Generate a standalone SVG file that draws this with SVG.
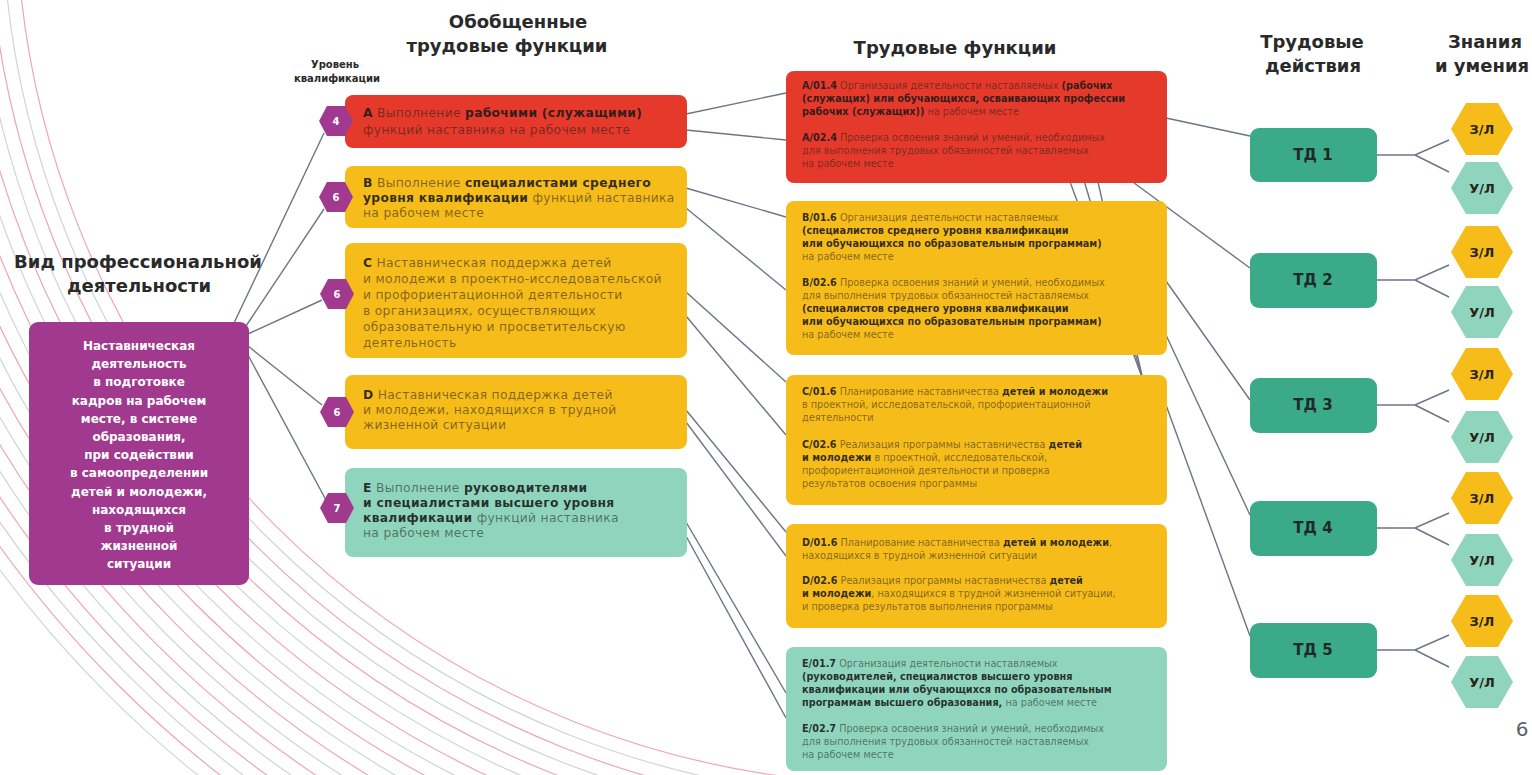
<svg xmlns="http://www.w3.org/2000/svg" width="1532" height="775" viewBox="0 0 1532 775">
<defs>
<clipPath id="clipArcs"><rect x="0" y="0" width="820" height="775"/></clipPath>
<style>
.h{font-family:"DejaVu Sans","Liberation Sans",sans-serif;font-weight:bold;font-size:18px;fill:#2a2a2a;text-anchor:middle}
.sm{font-family:"DejaVu Sans","Liberation Sans",sans-serif;font-weight:bold;font-size:10px;fill:#2a2a2a;text-anchor:middle}
.g{font-family:"DejaVu Sans","Liberation Sans",sans-serif;font-size:12.3px;letter-spacing:0.3px;fill:#1a1a1a;fill-opacity:.55}
.t{font-family:"DejaVu Sans","Liberation Sans",sans-serif;font-size:9.7px;fill:#1a1a1a;fill-opacity:.55}
.b{font-weight:bold;fill-opacity:.9}
.pv{font-family:"DejaVu Sans","Liberation Sans",sans-serif;font-weight:bold;font-size:12px;fill:#ffffff;text-anchor:middle}
.lv{font-family:"DejaVu Sans","Liberation Sans",sans-serif;font-weight:bold;font-size:10px;fill:#ffffff;text-anchor:middle}
.td{font-family:"DejaVu Sans","Liberation Sans",sans-serif;font-weight:bold;font-size:15px;fill:#1f2a28;text-anchor:middle}
.zl{font-family:"DejaVu Sans","Liberation Sans",sans-serif;font-weight:bold;font-size:13px;fill:#2a2418;text-anchor:middle}
.red{fill:#e53a2b}
.yel{fill:#f6bc1a}
.mint{fill:#8fd5bd}
.teal{fill:#3aaa88}
.pur{fill:#a1398f}
.c{stroke:#6c7486;stroke-width:1.4;fill:none}
.arcP{fill:none;stroke:#eda6b8;stroke-width:1.2}
.arcG{fill:none;stroke:#cfd3dd;stroke-width:1.2}
</style>
</defs>
<rect x="0" y="0" width="1532" height="775" fill="#ffffff"/>

<g id="background-arcs" clip-path="url(#clipArcs)">
<circle class="arcP" cx="900" cy="-100" r="884"/>
<circle class="arcG" cx="900" cy="-100" r="898"/>
<circle class="arcP" cx="900" cy="-100" r="912"/>
<circle class="arcG" cx="900" cy="-100" r="926"/>
<circle class="arcP" cx="900" cy="-100" r="940"/>
<circle class="arcG" cx="900" cy="-100" r="954"/>
<circle class="arcP" cx="900" cy="-100" r="968"/>
<circle class="arcG" cx="900" cy="-100" r="982"/>
<circle class="arcP" cx="900" cy="-100" r="996"/>
<circle class="arcG" cx="900" cy="-100" r="1010"/>
<circle class="arcP" cx="900" cy="-100" r="1024"/>
<circle class="arcG" cx="900" cy="-100" r="1038"/>
<circle class="arcP" cx="900" cy="-100" r="1052"/>
<circle class="arcG" cx="900" cy="-100" r="1066"/>
<circle class="arcP" cx="900" cy="-100" r="1080"/>
<circle class="arcG" cx="900" cy="-100" r="1094"/>
<circle class="arcP" cx="900" cy="-100" r="1108"/>
<circle class="arcG" cx="900" cy="-100" r="1122"/>
</g>

<g id="headings">
<text class="h" x="518" y="28">Обобщенные</text>
<text class="h" x="507" y="52">трудовые функции</text>
<text class="h" x="955" y="54">Трудовые функции</text>
<text class="h" x="1312" y="48">Трудовые</text>
<text class="h" x="1313" y="72">действия</text>
<text class="h" x="1485" y="48">Знания</text>
<text class="h" x="1482" y="72">и умения</text>
<text class="sm" x="335" y="68">Уровень</text>
<text class="sm" x="337" y="82">квалификации</text>
<text class="h" x="138" y="268">Вид профессиональной</text>
<text class="h" x="139" y="292">деятельности</text>
<text x="1522" y="736" style="font-family:'DejaVu Sans','Liberation Sans',sans-serif;font-size:20px;fill:#5a6272;text-anchor:middle">6</text>
</g>

<g id="connectors">
<line class="c" x1="234" y1="323" x2="324" y2="133"/>
<line class="c" x1="246" y1="326" x2="324" y2="209"/>
<line class="c" x1="248" y1="334" x2="322" y2="300"/>
<line class="c" x1="248" y1="346" x2="322" y2="405"/>
<line class="c" x1="248" y1="355" x2="326" y2="500"/>
<line class="c" x1="686" y1="114" x2="786" y2="93"/>
<line class="c" x1="686" y1="130" x2="786" y2="140"/>
<line class="c" x1="686" y1="188" x2="786" y2="217"/>
<line class="c" x1="686" y1="208" x2="786" y2="290"/>
<line class="c" x1="686" y1="292" x2="786" y2="382"/>
<line class="c" x1="686" y1="316" x2="786" y2="435"/>
<line class="c" x1="686" y1="410" x2="786" y2="532"/>
<line class="c" x1="686" y1="422" x2="786" y2="556"/>
<line class="c" x1="686" y1="522" x2="786" y2="693"/>
<line class="c" x1="686" y1="536" x2="786" y2="718"/>
<line class="c" x1="1062" y1="160" x2="1143" y2="380"/>
<line class="c" x1="1078" y1="160" x2="1143" y2="380"/>
<line class="c" x1="1093" y1="160" x2="1143" y2="380"/>
<line class="c" x1="1166" y1="118" x2="1250" y2="136"/>
<line class="c" x1="1130" y1="180" x2="1250" y2="268"/>
<line class="c" x1="1166" y1="281" x2="1250" y2="400"/>
<line class="c" x1="1166" y1="335" x2="1250" y2="515"/>
<line class="c" x1="1166" y1="405" x2="1250" y2="636"/>
<polyline class="c" points="1377,155 1415,155 1449,140"/><line class="c" x1="1415" y1="155" x2="1449" y2="172"/>
<polyline class="c" points="1377,280 1415,280 1449,265"/><line class="c" x1="1415" y1="280" x2="1449" y2="297"/>
<polyline class="c" points="1377,405 1415,405 1449,390"/><line class="c" x1="1415" y1="405" x2="1449" y2="422"/>
<polyline class="c" points="1377,528 1415,528 1449,513"/><line class="c" x1="1415" y1="528" x2="1449" y2="545"/>
<polyline class="c" points="1377,650 1415,650 1449,635"/><line class="c" x1="1415" y1="650" x2="1449" y2="667"/>
</g>

<g id="activity-type">
<rect class="pur" x="29" y="322" width="220" height="263" rx="9"/>
<text class="pv" x="139" y="350">Наставническая</text>
<text class="pv" x="139" y="368">деятельность</text>
<text class="pv" x="139" y="386">в подготовке</text>
<text class="pv" x="139" y="405">кадров на рабочем</text>
<text class="pv" x="139" y="423">месте, в системе</text>
<text class="pv" x="139" y="441">образования,</text>
<text class="pv" x="139" y="459">при содействии</text>
<text class="pv" x="139" y="477">в самоопределении</text>
<text class="pv" x="139" y="496">детей и молодежи,</text>
<text class="pv" x="139" y="514">находящихся</text>
<text class="pv" x="139" y="532">в трудной</text>
<text class="pv" x="139" y="550">жизненной</text>
<text class="pv" x="139" y="568">ситуации</text>
</g>

<g id="gtf-A">
<rect class="red" x="345" y="95" width="342" height="53" rx="8"/>
<polygon class="pur" points="319,121 327,106 345,106 353,121 345,136 327,136"/>
<text class="lv" x="336" y="125">4</text>
<text class="g" x="363" y="117"><tspan class="b">A</tspan> Выполнение <tspan class="b">рабочими (служащими)</tspan></text>
<text class="g" x="363" y="134">функций наставника на рабочем месте</text>
</g>

<g id="gtf-B">
<rect class="yel" x="345" y="166" width="342" height="62" rx="8"/>
<polygon class="pur" points="319,197 327,182 345,182 353,197 345,212 327,212"/>
<text class="lv" x="336" y="201">6</text>
<text class="g" x="363" y="187"><tspan class="b">B</tspan> Выполнение <tspan class="b">специалистами среднего</tspan></text>
<text class="g" x="363" y="202"><tspan class="b">уровня квалификации</tspan> функций наставника</text>
<text class="g" x="363" y="217">на рабочем месте</text>
</g>

<g id="gtf-C">
<rect class="yel" x="345" y="243" width="342" height="115" rx="8"/>
<polygon class="pur" points="320,294 328,279 346,279 354,294 346,309 328,309"/>
<text class="lv" x="337" y="298">6</text>
<text class="g" x="363" y="267"><tspan class="b">C</tspan> Наставническая поддержка детей</text>
<text class="g" x="363" y="283">и молодежи в проектно-исследовательской</text>
<text class="g" x="363" y="299">и профориентационной деятельности</text>
<text class="g" x="363" y="315">в организациях, осуществляющих</text>
<text class="g" x="363" y="331">образовательную и просветительскую</text>
<text class="g" x="363" y="347">деятельность</text>
</g>

<g id="gtf-D">
<rect class="yel" x="345" y="375" width="342" height="74" rx="8"/>
<polygon class="pur" points="320,412 328,397 346,397 354,412 346,427 328,427"/>
<text class="lv" x="337" y="416">6</text>
<text class="g" x="363" y="399"><tspan class="b">D</tspan> Наставническая поддержка детей</text>
<text class="g" x="363" y="414">и молодежи, находящихся в трудной</text>
<text class="g" x="363" y="429">жизненной ситуации</text>
</g>

<g id="gtf-E">
<rect class="mint" x="345" y="468" width="342" height="89" rx="8"/>
<polygon class="pur" points="320,508 328,493 346,493 354,508 346,523 328,523"/>
<text class="lv" x="337" y="512">7</text>
<text class="g" x="363" y="492"><tspan class="b">E</tspan> Выполнение <tspan class="b">руководителями</tspan></text>
<text class="g" x="363" y="507"><tspan class="b">и специалистами высшего уровня</tspan></text>
<text class="g" x="363" y="522"><tspan class="b">квалификации</tspan> функций наставника</text>
<text class="g" x="363" y="537">на рабочем месте</text>
</g>

<g id="tf-A">
<rect class="red" x="786" y="71" width="381" height="112" rx="8"/>
<text class="t" x="802" y="89"><tspan class="b">A/01.4</tspan> Организация деятельности наставляемых <tspan class="b">(рабочих</tspan></text>
<text class="t" x="802" y="102"><tspan class="b">(служащих) или обучающихся, осваивающих профессии</tspan></text>
<text class="t" x="802" y="115"><tspan class="b">рабочих (служащих))</tspan> на рабочем месте</text>
<text class="t" x="802" y="141"><tspan class="b">A/02.4</tspan> Проверка освоения знаний и умений, необходимых</text>
<text class="t" x="802" y="154">для выполнения трудовых обязанностей наставляемых</text>
<text class="t" x="802" y="167">на рабочем месте</text>
</g>

<g id="tf-B">
<rect class="yel" x="786" y="201" width="381" height="154" rx="8"/>
<text class="t" x="802" y="221"><tspan class="b">B/01.6</tspan> Организация деятельности наставляемых</text>
<text class="t" x="802" y="234"><tspan class="b">(специалистов среднего уровня квалификации</tspan></text>
<text class="t" x="802" y="247"><tspan class="b">или обучающихся по образовательным программам)</tspan></text>
<text class="t" x="802" y="260">на рабочем месте</text>
<text class="t" x="802" y="286"><tspan class="b">B/02.6</tspan> Проверка освоения знаний и умений, необходимых</text>
<text class="t" x="802" y="299">для выполнения трудовых обязанностей наставляемых</text>
<text class="t" x="802" y="312"><tspan class="b">(специалистов среднего уровня квалификации</tspan></text>
<text class="t" x="802" y="325"><tspan class="b">или обучающихся по образовательным программам)</tspan></text>
<text class="t" x="802" y="338">на рабочем месте</text>
</g>

<g id="tf-C">
<rect class="yel" x="786" y="375" width="381" height="130" rx="8"/>
<text class="t" x="802" y="395"><tspan class="b">C/01.6</tspan> Планирование наставничества <tspan class="b">детей и молодежи</tspan></text>
<text class="t" x="802" y="408">в проектной, исследовательской, профориентационной</text>
<text class="t" x="802" y="421">деятельности</text>
<text class="t" x="802" y="448"><tspan class="b">C/02.6</tspan> Реализация программы наставничества <tspan class="b">детей</tspan></text>
<text class="t" x="802" y="461"><tspan class="b">и молодежи</tspan> в проектной, исследовательской,</text>
<text class="t" x="802" y="474">профориентационной деятельности и проверка</text>
<text class="t" x="802" y="487">результатов освоения программы</text>
</g>

<g id="tf-D">
<rect class="yel" x="786" y="524" width="381" height="104" rx="8"/>
<text class="t" x="802" y="546"><tspan class="b">D/01.6</tspan> Планирование наставничества <tspan class="b">детей и молодежи</tspan>,</text>
<text class="t" x="802" y="559">находящихся в трудной жизненной ситуации</text>
<text class="t" x="802" y="584"><tspan class="b">D/02.6</tspan> Реализация программы наставничества <tspan class="b">детей</tspan></text>
<text class="t" x="802" y="597"><tspan class="b">и молодежи</tspan>, находящихся в трудной жизненной ситуации,</text>
<text class="t" x="802" y="610">и проверка результатов выполнения программы</text>
</g>

<g id="tf-E">
<rect class="mint" x="786" y="647" width="381" height="124" rx="8"/>
<text class="t" x="802" y="667"><tspan class="b">E/01.7</tspan> Организация деятельности наставляемых</text>
<text class="t" x="802" y="680"><tspan class="b">(руководителей, специалистов высшего уровня</tspan></text>
<text class="t" x="802" y="693"><tspan class="b">квалификации или обучающихся по образовательным</tspan></text>
<text class="t" x="802" y="706"><tspan class="b">программам высшего образования,</tspan> на рабочем месте</text>
<text class="t" x="802" y="732"><tspan class="b">E/02.7</tspan> Проверка освоения знаний и умений, необходимых</text>
<text class="t" x="802" y="745">для выполнения трудовых обязанностей наставляемых</text>
<text class="t" x="802" y="758">на рабочем месте</text>
</g>

<g id="td-1"><rect class="teal" x="1250" y="128" width="127" height="54" rx="9"/><text class="td" x="1313" y="160">ТД 1</text></g>
<g id="td-2"><rect class="teal" x="1250" y="253" width="127" height="55" rx="9"/><text class="td" x="1313" y="285">ТД 2</text></g>
<g id="td-3"><rect class="teal" x="1250" y="378" width="127" height="55" rx="9"/><text class="td" x="1313" y="410">ТД 3</text></g>
<g id="td-4"><rect class="teal" x="1250" y="501" width="127" height="55" rx="9"/><text class="td" x="1313" y="533">ТД 4</text></g>
<g id="td-5"><rect class="teal" x="1250" y="623" width="127" height="55" rx="9"/><text class="td" x="1313" y="655">ТД 5</text></g>

<g id="zl-1"><polygon class="yel" points="1451,129 1466,103 1498,103 1513,129 1498,155 1466,155"/><text class="zl" x="1482" y="134">З/Л</text></g>
<g id="ul-1"><polygon class="mint" points="1451,188 1466,162 1498,162 1513,188 1498,214 1466,214"/><text class="zl" x="1482" y="193">У/Л</text></g>
<g id="zl-2"><polygon class="yel" points="1451,252 1466,226 1498,226 1513,252 1498,278 1466,278"/><text class="zl" x="1482" y="257">З/Л</text></g>
<g id="ul-2"><polygon class="mint" points="1451,312 1466,286 1498,286 1513,312 1498,338 1466,338"/><text class="zl" x="1482" y="317">У/Л</text></g>
<g id="zl-3"><polygon class="yel" points="1451,374 1466,348 1498,348 1513,374 1498,400 1466,400"/><text class="zl" x="1482" y="379">З/Л</text></g>
<g id="ul-3"><polygon class="mint" points="1451,437 1466,411 1498,411 1513,437 1498,463 1466,463"/><text class="zl" x="1482" y="442">У/Л</text></g>
<g id="zl-4"><polygon class="yel" points="1451,498 1466,472 1498,472 1513,498 1498,524 1466,524"/><text class="zl" x="1482" y="503">З/Л</text></g>
<g id="ul-4"><polygon class="mint" points="1451,560 1466,534 1498,534 1513,560 1498,586 1466,586"/><text class="zl" x="1482" y="565">У/Л</text></g>
<g id="zl-5"><polygon class="yel" points="1451,621 1466,595 1498,595 1513,621 1498,647 1466,647"/><text class="zl" x="1482" y="626">З/Л</text></g>
<g id="ul-5"><polygon class="mint" points="1451,682 1466,656 1498,656 1513,682 1498,708 1466,708"/><text class="zl" x="1482" y="687">У/Л</text></g>
</svg>
